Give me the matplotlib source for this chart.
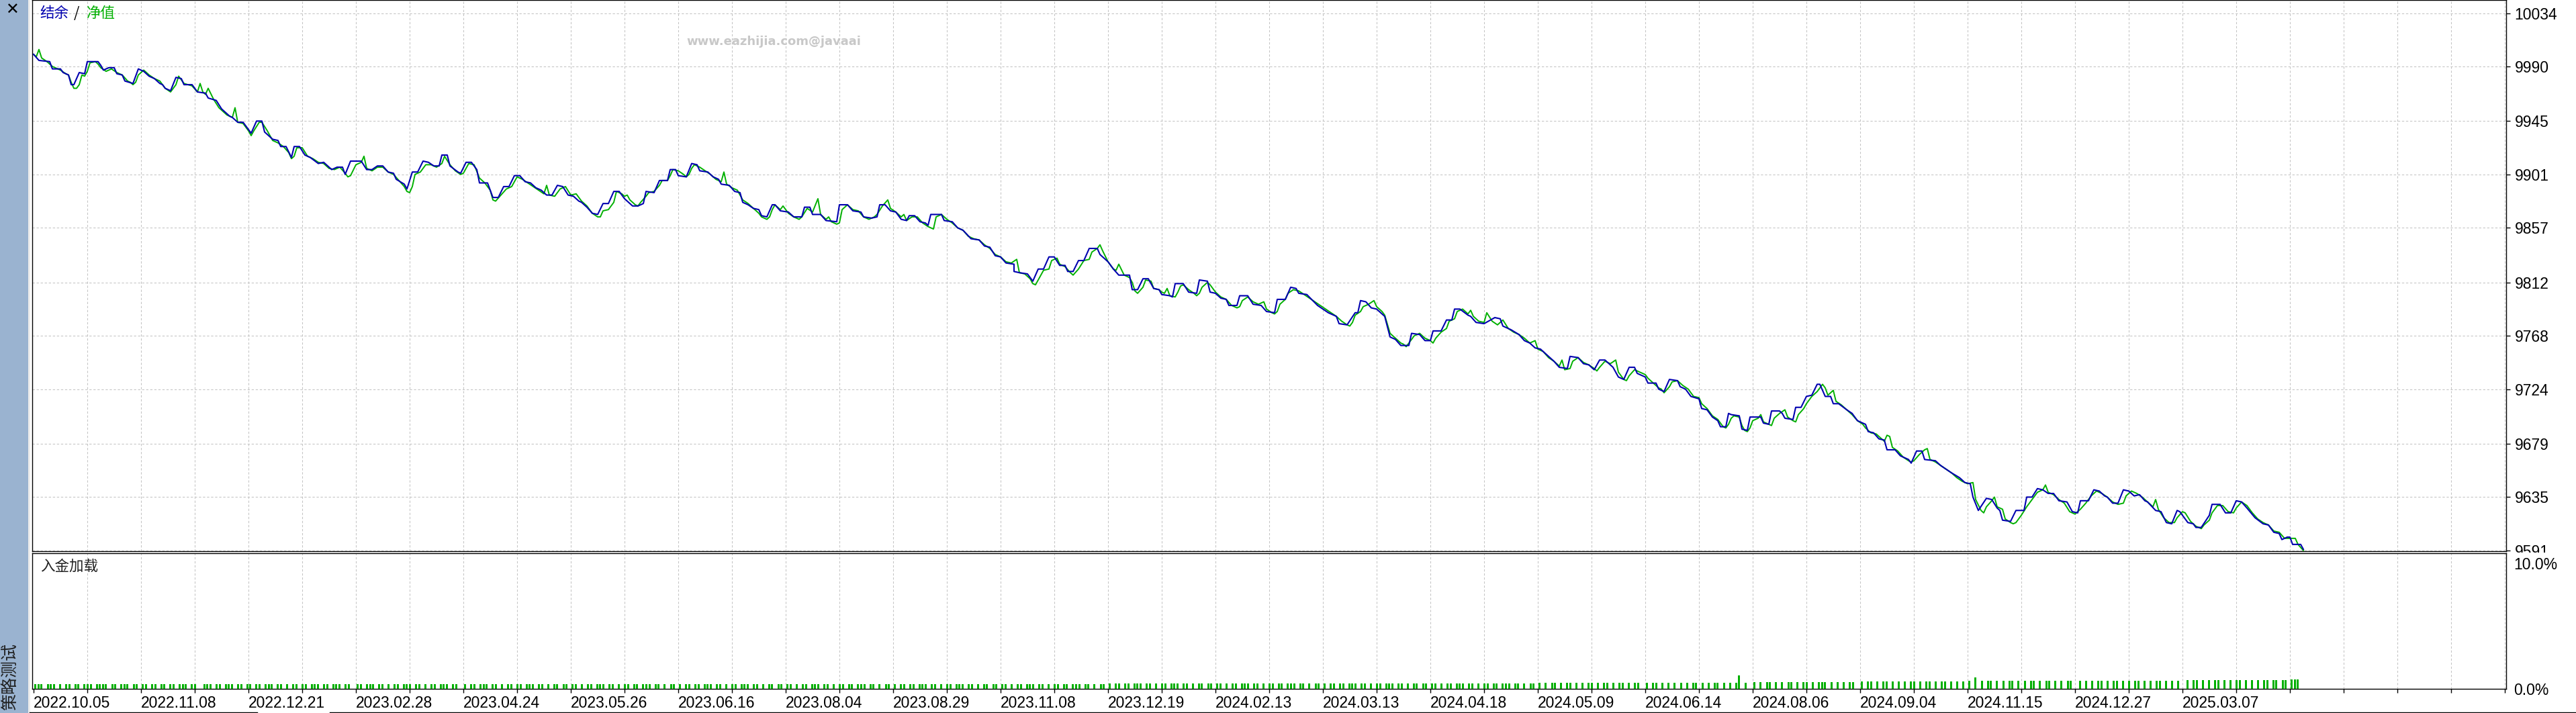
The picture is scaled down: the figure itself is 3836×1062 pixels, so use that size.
import matplotlib
matplotlib.use("Agg")
import matplotlib.pyplot as plt
from matplotlib.patches import Rectangle
from matplotlib.lines import Line2D

plt.rcParams['font.family'] = ['Liberation Sans', 'DejaVu Sans']

W, H = 3836, 1062

# 结余 (balance): (deal number, value)
balance = [
    (0, 10000), (2, 9995), (6, 9994), (7, 9988), (10, 9988), (11, 9985), (13, 9983), (14, 9975),
    (15, 9975), (17, 9985), (19, 9984), (20, 9994), (24, 9994), (25, 9991), (26, 9987), (28, 9989),
    (30, 9989), (31, 9984), (33, 9983), (34, 9978), (37, 9976), (39, 9988), (41, 9986), (43, 9982),
    (45, 9980), (47, 9976), (48, 9975), (49, 9972), (51, 9970), (53, 9981), (55, 9980), (56, 9975),
    (59, 9975), (61, 9969), (64, 9968), (65, 9964), (68, 9962), (70, 9955), (73, 9949), (74, 9948),
    (76, 9944), (78, 9944), (81, 9935), (83, 9945), (85, 9945), (86, 9936), (89, 9930), (91, 9929),
    (92, 9924), (94, 9924), (96, 9915), (97, 9924), (99, 9924), (101, 9917), (103, 9915), (106, 9910),
    (108, 9911), (111, 9905), (113, 9907), (115, 9907), (116, 9901), (118, 9912), (122, 9912),
    (124, 9905), (126, 9905), (128, 9908), (130, 9908), (132, 9903), (134, 9902), (135, 9897),
    (138, 9893), (139, 9889), (141, 9903), (143, 9903), (145, 9912), (147, 9911), (149, 9908),
    (151, 9908), (152, 9917), (154, 9917), (155, 9908), (158, 9903), (159, 9902), (161, 9911),
    (163, 9911), (165, 9905), (166, 9894), (169, 9894), (171, 9882), (173, 9882), (175, 9891),
    (177, 9891), (179, 9900), (181, 9900), (183, 9895), (185, 9894), (187, 9890), (189, 9888),
    (191, 9884), (193, 9884), (195, 9892), (197, 9891), (199, 9884), (201, 9883), (203, 9879),
    (204, 9878), (206, 9874), (208, 9869), (210, 9868), (212, 9877), (214, 9877), (216, 9887),
    (218, 9887), (220, 9881), (223, 9875), (225, 9875), (227, 9877), (228, 9887), (231, 9886),
    (233, 9896), (236, 9896), (237, 9905), (239, 9905), (240, 9900), (243, 9899), (245, 9910),
    (247, 9909), (248, 9904), (251, 9903), (253, 9899), (255, 9897), (256, 9893), (259, 9892),
    (261, 9887), (263, 9886), (264, 9878), (266, 9876), (268, 9873), (270, 9872), (271, 9867),
    (273, 9866), (275, 9876), (276, 9876), (278, 9871), (281, 9870), (283, 9866), (286, 9866),
    (287, 9874), (289, 9874), (290, 9868), (293, 9868), (295, 9863), (299, 9862), (300, 9876),
    (303, 9876), (305, 9871), (308, 9870), (309, 9866), (312, 9865), (314, 9866), (315, 9876),
    (317, 9876), (319, 9871), (321, 9870), (323, 9864), (325, 9863), (326, 9867), (328, 9867),
    (330, 9862), (332, 9861), (333, 9859), (334, 9868), (338, 9868), (339, 9863), (342, 9862),
    (344, 9857), (346, 9855), (349, 9848), (352, 9847), (354, 9842), (356, 9841), (358, 9834),
    (360, 9833), (362, 9828), (365, 9827), (365, 9821), (367, 9820), (370, 9819), (372, 9813),
    (374, 9823), (376, 9823), (378, 9833), (380, 9833), (382, 9826), (384, 9826), (385, 9821),
    (387, 9821), (389, 9830), (391, 9830), (393, 9840), (396, 9840), (397, 9835), (400, 9829),
    (402, 9823), (404, 9818), (406, 9818), (408, 9818), (409, 9806), (411, 9806), (413, 9815),
    (415, 9815), (417, 9807), (419, 9806), (420, 9802), (423, 9801), (424, 9800), (425, 9811),
    (428, 9811), (430, 9804), (433, 9803), (434, 9814), (437, 9813), (438, 9804), (440, 9803),
    (442, 9799), (444, 9798), (445, 9793), (448, 9793), (449, 9801), (452, 9801), (454, 9794),
    (457, 9793), (459, 9788), (462, 9787), (463, 9798), (466, 9798), (468, 9808), (470, 9807),
    (471, 9803), (474, 9802), (478, 9793), (482, 9787), (485, 9784), (486, 9778), (489, 9777),
    (492, 9787), (493, 9787), (494, 9797), (496, 9796), (498, 9791), (500, 9790), (503, 9784),
    (505, 9767), (507, 9765), (509, 9760), (512, 9760), (513, 9770), (516, 9769), (518, 9764),
    (520, 9764), (521, 9772), (524, 9772), (526, 9781), (528, 9781), (529, 9790), (531, 9790),
    (534, 9785), (535, 9784), (537, 9779), (540, 9778), (544, 9783), (546, 9782), (547, 9776),
    (550, 9773), (553, 9769), (555, 9764), (557, 9762), (559, 9758), (561, 9757), (563, 9753),
    (566, 9747), (568, 9742), (571, 9741), (572, 9751), (575, 9750), (577, 9745), (579, 9744),
    (581, 9740), (583, 9748), (585, 9748), (588, 9742), (590, 9734), (592, 9732), (594, 9742),
    (596, 9742), (597, 9737), (600, 9734), (601, 9729), (604, 9729), (605, 9724), (607, 9722),
    (609, 9732), (612, 9731), (613, 9726), (615, 9724), (617, 9718), (620, 9716), (621, 9708),
    (623, 9707), (625, 9701), (627, 9698), (628, 9693), (630, 9693), (631, 9704), (632, 9703),
    (635, 9702), (636, 9691), (638, 9690), (639, 9701), (642, 9701), (643, 9701), (644, 9696),
    (646, 9695), (647, 9706), (650, 9706), (651, 9704), (652, 9700), (655, 9699), (656, 9709),
    (658, 9709), (660, 9718), (662, 9719), (664, 9728), (665, 9728), (667, 9718), (669, 9718),
    (670, 9712), (672, 9712), (675, 9707), (677, 9704), (679, 9698), (682, 9695), (683, 9689),
    (685, 9688), (687, 9683), (689, 9682), (690, 9674), (693, 9674), (695, 9669), (698, 9666),
    (699, 9663), (701, 9673), (703, 9673), (704, 9666), (708, 9665), (710, 9661), (712, 9658),
    (714, 9655), (717, 9651), (719, 9647), (721, 9646), (722, 9635), (724, 9624), (727, 9634),
    (729, 9633), (731, 9626), (732, 9624), (733, 9616), (736, 9615), (738, 9624), (741, 9624),
    (742, 9635), (744, 9635), (746, 9642), (748, 9641), (750, 9638), (752, 9638), (754, 9632),
    (757, 9631), (759, 9623), (761, 9622), (762, 9632), (765, 9632), (767, 9641), (769, 9640),
    (771, 9636), (772, 9635), (774, 9630), (776, 9630), (778, 9641), (780, 9640), (782, 9636),
    (784, 9637), (786, 9632), (787, 9631), (790, 9624), (792, 9623), (794, 9614), (796, 9613),
    (798, 9624), (799, 9623), (802, 9614), (804, 9613), (805, 9610), (807, 9610), (810, 9620),
    (811, 9629), (814, 9629), (816, 9622), (818, 9622), (820, 9632), (822, 9631), (824, 9626),
    (827, 9618), (830, 9613), (832, 9612), (834, 9606), (836, 9605), (837, 9600), (839, 9602),
    (840, 9602), (841, 9596), (844, 9596), (845, 9592),
]

# 净值 (equity): (deal number, value)
equity = [
    (0, 10000), (1, 9998), (2, 10004), (3, 9997), (5, 9994), (7, 9990), (10, 9987), (12, 9984),
    (13, 9983), (14, 9977), (15, 9972), (16, 9972), (17, 9975), (18, 9983), (19, 9982), (20, 9986),
    (21, 9993), (23, 9994), (24, 9992), (25, 9989), (27, 9986), (29, 9988), (31, 9985), (33, 9983),
    (35, 9978), (36, 9977), (37, 9975), (38, 9977), (39, 9983), (41, 9987), (43, 9983), (45, 9980),
    (47, 9978), (49, 9972), (51, 9969), (53, 9975), (54, 9982), (56, 9976), (59, 9974), (61, 9969),
    (62, 9976), (63, 9969), (64, 9967), (65, 9972), (67, 9963), (69, 9956), (72, 9950), (74, 9948),
    (75, 9956), (76, 9944), (78, 9943), (80, 9937), (81, 9933), (82, 9937), (84, 9944), (85, 9944),
    (87, 9937), (89, 9929), (91, 9927), (93, 9924), (95, 9919), (96, 9914), (97, 9916), (98, 9923),
    (100, 9923), (102, 9916), (104, 9914), (106, 9911), (108, 9910), (110, 9906), (112, 9905),
    (114, 9907), (116, 9902), (117, 9899), (118, 9900), (120, 9909), (122, 9911), (123, 9916),
    (124, 9906), (126, 9904), (128, 9907), (130, 9907), (132, 9903), (134, 9901), (136, 9896),
    (138, 9891), (139, 9887), (140, 9886), (141, 9891), (142, 9901), (144, 9903), (146, 9909),
    (148, 9909), (150, 9907), (152, 9910), (153, 9916), (155, 9909), (157, 9904), (159, 9901),
    (160, 9902), (162, 9910), (164, 9909), (166, 9898), (168, 9894), (170, 9888), (171, 9880),
    (172, 9879), (174, 9884), (176, 9889), (178, 9891), (180, 9899), (182, 9897), (184, 9894),
    (186, 9891), (188, 9888), (190, 9885), (191, 9892), (192, 9884), (194, 9883), (196, 9889),
    (198, 9891), (200, 9884), (202, 9885), (204, 9879), (206, 9875), (208, 9869), (210, 9866),
    (211, 9866), (212, 9871), (214, 9872), (215, 9875), (216, 9878), (217, 9887), (219, 9885),
    (220, 9883), (221, 9884), (222, 9880), (224, 9876), (225, 9875), (226, 9878), (228, 9883),
    (229, 9886), (231, 9887), (233, 9892), (234, 9896), (236, 9896), (237, 9900), (238, 9905),
    (240, 9904), (242, 9901), (243, 9899), (244, 9901), (245, 9906), (246, 9909), (248, 9907),
    (250, 9904), (252, 9901), (254, 9897), (256, 9895), (257, 9903), (258, 9893), (260, 9890),
    (262, 9888), (264, 9880), (266, 9877), (268, 9873), (270, 9869), (271, 9866), (273, 9864),
    (274, 9866), (275, 9872), (276, 9876), (278, 9872), (279, 9875), (281, 9869), (283, 9866),
    (285, 9864), (286, 9866), (288, 9873), (290, 9870), (292, 9881), (293, 9868), (295, 9864),
    (296, 9866), (297, 9862), (298, 9861), (299, 9860), (300, 9861), (301, 9872), (303, 9876),
    (305, 9872), (307, 9871), (309, 9866), (311, 9864), (313, 9866), (314, 9868), (316, 9875),
    (318, 9880), (319, 9873), (321, 9870), (323, 9866), (324, 9868), (325, 9863), (327, 9866),
    (329, 9866), (331, 9861), (333, 9858), (335, 9856), (336, 9866), (338, 9868), (340, 9864),
    (342, 9861), (344, 9857), (346, 9855), (348, 9850), (350, 9848), (352, 9847), (354, 9843),
    (356, 9840), (358, 9835), (360, 9833), (362, 9829), (364, 9828), (366, 9831), (367, 9820),
    (369, 9819), (371, 9815), (372, 9811), (373, 9810), (375, 9818), (376, 9822), (378, 9823),
    (379, 9830), (381, 9832), (382, 9827), (384, 9825), (386, 9820), (387, 9818), (389, 9823),
    (391, 9830), (393, 9831), (394, 9837), (396, 9840), (397, 9843), (398, 9838), (400, 9829),
    (402, 9823), (403, 9822), (404, 9827), (406, 9818), (408, 9816), (409, 9812), (410, 9805),
    (411, 9803), (413, 9808), (414, 9814), (416, 9813), (417, 9807), (419, 9806), (420, 9804),
    (421, 9803), (422, 9807), (423, 9801), (425, 9800), (426, 9804), (427, 9809), (428, 9810),
    (430, 9806), (432, 9803), (433, 9801), (434, 9803), (435, 9808), (437, 9812), (438, 9810),
    (440, 9804), (442, 9800), (444, 9798), (446, 9793), (448, 9791), (449, 9792), (450, 9797),
    (452, 9800), (454, 9796), (456, 9794), (458, 9796), (459, 9790), (461, 9787), (462, 9786),
    (463, 9788), (464, 9794), (466, 9798), (467, 9803), (469, 9806), (471, 9805), (473, 9802),
    (475, 9799), (477, 9796), (479, 9793), (481, 9790), (483, 9787), (485, 9784), (487, 9780),
    (489, 9777), (490, 9776), (491, 9779), (492, 9785), (494, 9788), (495, 9792), (497, 9794),
    (499, 9797), (500, 9792), (502, 9788), (503, 9785), (505, 9770), (507, 9766), (509, 9762),
    (510, 9761), (511, 9759), (512, 9762), (514, 9768), (516, 9770), (518, 9766), (520, 9764),
    (521, 9762), (522, 9766), (524, 9771), (526, 9774), (527, 9780), (529, 9782), (530, 9788),
    (532, 9790), (534, 9786), (535, 9789), (536, 9784), (538, 9780), (540, 9779), (541, 9787),
    (543, 9780), (545, 9777), (547, 9781), (549, 9774), (551, 9771), (553, 9769), (555, 9766),
    (557, 9762), (559, 9764), (560, 9757), (562, 9755), (564, 9750), (566, 9747), (568, 9743),
    (569, 9748), (570, 9740), (572, 9741), (573, 9747), (575, 9750), (577, 9746), (579, 9744),
    (581, 9741), (582, 9739), (583, 9742), (585, 9747), (587, 9745), (589, 9748), (590, 9738),
    (592, 9732), (593, 9731), (594, 9735), (596, 9740), (598, 9738), (600, 9736), (601, 9733),
    (603, 9729), (605, 9725), (606, 9724), (607, 9721), (609, 9726), (610, 9730), (612, 9731),
    (614, 9727), (616, 9724), (618, 9718), (620, 9717), (621, 9712), (623, 9708), (625, 9702),
    (627, 9699), (629, 9693), (630, 9692), (631, 9695), (632, 9700), (633, 9702), (635, 9701),
    (636, 9694), (637, 9690), (638, 9689), (639, 9692), (640, 9698), (642, 9700), (643, 9703),
    (644, 9697), (646, 9695), (647, 9694), (648, 9700), (650, 9704), (652, 9707), (653, 9701),
    (655, 9698), (656, 9697), (657, 9703), (659, 9708), (660, 9712), (662, 9718), (664, 9722),
    (666, 9728), (667, 9725), (668, 9719), (670, 9723), (671, 9714), (673, 9711), (675, 9707),
    (677, 9703), (679, 9698), (681, 9695), (682, 9692), (684, 9688), (686, 9687), (688, 9683),
    (689, 9681), (690, 9686), (691, 9685), (692, 9676), (694, 9673), (696, 9668), (698, 9665),
    (699, 9664), (700, 9665), (702, 9670), (704, 9674), (705, 9675), (706, 9666), (708, 9664),
    (710, 9661), (712, 9658), (714, 9655), (716, 9651), (718, 9648), (720, 9646), (722, 9647),
    (723, 9633), (725, 9624), (726, 9622), (727, 9627), (729, 9632), (730, 9635), (731, 9627),
    (733, 9625), (734, 9617), (736, 9614), (737, 9613), (738, 9614), (740, 9620), (742, 9627),
    (744, 9633), (746, 9639), (748, 9641), (749, 9645), (750, 9639), (752, 9637), (754, 9633),
    (756, 9630), (758, 9623), (760, 9621), (762, 9625), (764, 9630), (766, 9636), (768, 9640),
    (770, 9638), (772, 9635), (774, 9631), (776, 9629), (778, 9630), (779, 9636), (781, 9640),
    (783, 9638), (785, 9635), (787, 9631), (789, 9627), (790, 9633), (791, 9625), (793, 9618),
    (795, 9614), (797, 9614), (798, 9618), (800, 9623), (801, 9622), (803, 9615), (805, 9611),
    (807, 9609), (808, 9612), (810, 9616), (811, 9622), (813, 9628), (815, 9628), (817, 9623),
    (819, 9622), (820, 9626), (822, 9631), (824, 9628), (826, 9622), (828, 9617), (830, 9614),
    (832, 9612), (834, 9607), (836, 9606), (838, 9601), (840, 9601), (842, 9601), (843, 9596),
    (845, 9591),
]

date_labels = ['2022.10.05', '2022.11.08', '2022.12.21', '2023.02.28', '2023.04.24',
               '2023.05.26', '2023.06.16', '2023.08.04', '2023.08.29', '2023.11.08',
               '2023.12.19', '2024.02.13', '2024.03.13', '2024.04.18', '2024.05.09',
               '2024.06.14', '2024.08.06', '2024.09.04', '2024.11.15', '2024.12.27',
               '2025.03.07']
value_ticks = [9591, 9635, 9679, 9724, 9768, 9812, 9857, 9901, 9945, 9990, 10034]
load_ticks = [0.0, 10.0]
load_tick_labels = ['0.0%', '10.0%']

# 入金加载 bars: one char per slot ('|' = bar), one string per date interval
load_masks = [
    '|||.|||.|.||.||.|||.||||.||.|||.||.',
    '||.||.||.||.|||.||..|||.||.|||.||.|',
    '|.||.|||.||.|.||.||.|||.||.|||.||.',
    '||.|||.||.|.||.|||.||.|.||.|||.||.',
    '|.||.|||.||.|.||.||.|||.||.|.||.||.',
    '||.|.||.|||.||.|.||.||.|||.||.|.||.',
    '|.||.||.|||.||.|.||.|||.||.|.||.||.',
    '||.|.||.|||.||.|.||.||.|||.||.|.||.',
    '|.||.||.|||.||.|.||.|||.||.|.||.||.',
    '||.|.||.|||.||.|.||.||.|||.||.|.||.',
    '|.||.||.|||.||.|.||.|||.||.|.||.||.',
    '||.|.||.|||.||.|.||.||.|||.||.|.||.',
    '|.||.||.|||.||.|.||.|||.||.|.||.||.',
    '||.|.||.|||.||.|.||.||.|||.||.|.||.',
    '|.|.||.|.||.|.|.||.|.||.|.||.|.||.',
    '|.||.|.|.|.|.|.||.|.|.||.|.|.||.|.',
    '|.|.||.|.|.||.|.||.|.|||.|.|.|.||.',
    '|.||.|.||.|.|.|.||.|.||.|.||.|.|.|',
    '|.|.|.||.|.|.||.|.|.||.|.||.|.|.||',
    '.|.|.|.||.|.||.|.|.||.|.|.||.|.|.|',
    '.|.||.|.|.||.|.|.||.|.|.|.||.||.||',
    '|||.',
]
load_levels = [0.35, 0.35, 0.35, 0.35, 0.35, 0.4, 0.4, 0.4, 0.4, 0.4, 0.45,
               0.45, 0.45, 0.45, 0.5, 0.5, 0.55, 0.58, 0.62, 0.66, 0.72, 0.75]
load_peaks = {555: 1.07, 632: 0.9}

BLUE = '#0000B0'
GREEN = '#00B000'
GRID = '#C4C4C4'
GRID_LS = (0, (3.2, 2.6))


def fx(px):
    return px / W


def fy(py):
    return 1 - py / H


fig = plt.figure(figsize=(W / 100, H / 100), dpi=100)
fig.patch.set_facecolor('white')

# left tool strip
fig.add_artist(Rectangle((0, 0), fx(42), 1, transform=fig.transFigure,
                         facecolor='#9AB3D0', edgecolor='none'))
fig.add_artist(Rectangle((fx(42), 0), fx(3), 1, transform=fig.transFigure,
                         facecolor='#ECECEC', edgecolor='none'))
fig.text(fx(18), fy(15), '✕', ha='center', va='center', fontsize=17,
         fontweight='bold', family='DejaVu Sans', color='black')
fig.text(fx(15), fy(1058), '策略测试', rotation=90, ha='center', va='bottom',
         fontsize=18, family=['Noto Sans CJK SC', 'DejaVu Sans'], color='#202020')

# ---- balance / equity panel ----
ax = fig.add_axes([fx(48), fy(821), fx(3732 - 48), 821 / H], zorder=0)
ax.plot([d for d, v in equity], [v for d, v in equity], color=GREEN, lw=1.4, zorder=3)
ax.plot([d for d, v in balance], [v for d, v in balance], color=BLUE, lw=1.5, zorder=4)
ax.set_xlim(-0.5, 920.5)
ax.set_ylim(9590.4, 10044.8)
for d in range(20, 921, 20):
    ax.axvline(d, color=GRID, lw=0.75, ls=GRID_LS, zorder=1)
for v in value_ticks:
    ax.axhline(v, color=GRID, lw=0.75, ls=GRID_LS, zorder=1)
ax.set_xticks([])
ax.yaxis.tick_right()
ax.set_yticks(value_ticks)
ax.set_yticklabels([str(v) for v in value_ticks])
ax.tick_params(axis='y', direction='out', length=4, width=1, pad=5, labelsize=16.5)

# ---- deposit load panel ----
ax2 = fig.add_axes([fx(48), fy(1026), fx(3732 - 48), (1026 - 823.5) / H], zorder=2)
bar_x, bar_h = [], []
for k, (mask, level) in enumerate(zip(load_masks, load_levels)):
    for j, ch in enumerate(mask):
        if ch == '|':
            s = 35 * k + j
            bar_x.append(0.7 + s * 8 / 7)
            bar_h.append(load_peaks.get(s, level))
ax2.bar(bar_x, bar_h, width=0.75, color=GREEN, linewidth=0, zorder=3)
ax2.set_xlim(-0.5, 920.5)
ax2.set_ylim(0, 10.83)
for d in range(20, 921, 20):
    ax2.axvline(d, color=GRID, lw=0.75, ls=GRID_LS, zorder=1)
major = list(range(0, 801, 40))
minor = [d for d in range(20, 921, 20) if d not in major]
ax2.set_xticks(major)
ax2.set_xticklabels(date_labels, ha='left')
ax2.set_xticks(minor, minor=True)
ax2.tick_params(axis='x', which='both', direction='out', length=4, width=1, pad=3,
                labelsize=16.5)
ax2.yaxis.tick_right()
ax2.set_yticks(load_ticks)
ax2.set_yticklabels(load_tick_labels)
ax2.tick_params(axis='y', length=0, pad=8, labelsize=16.5)

for a in (ax, ax2):
    for s in a.spines.values():
        s.set_linewidth(1.0)
        s.set_color('black')

# hides the lower half of the last value label, as the lower panel does
fig.add_artist(Rectangle((fx(3733), fy(1031)), 1 - fx(3733), (1031 - 822.5) / H,
                         transform=fig.transFigure, facecolor='white',
                         edgecolor='none', zorder=1))

# captions
cjk = ['Noto Sans CJK SC', 'DejaVu Sans']
fig.text(fx(59), fy(20), '结余', ha='left', va='center', fontsize=15.5, family=cjk, color=BLUE)
fig.text(fx(110), fy(20), '/', ha='left', va='center', fontsize=15.5, family=cjk, color='black')
fig.text(fx(129), fy(20), '净值', ha='left', va='center', fontsize=15.5, family=cjk, color=GREEN)
fig.text(fx(60), fy(844), '入金加载', ha='left', va='center', fontsize=15.5, family=cjk,
         color='#202020')
fig.text(fx(1022), fy(62), 'www.eazhijia.com@javaai', ha='left', va='center', fontsize=13,
         fontweight='bold', family='DejaVu Sans', color='#C8C8C8')

# bottom tab border
fig.add_artist(Line2D([fx(44), fx(383)], [fy(1060.5)] * 2, transform=fig.transFigure,
                      color='black', lw=1))
fig.add_artist(Line2D([fx(491), 1], [fy(1060.5)] * 2, transform=fig.transFigure,
                      color='black', lw=1))

fig.savefig('out.png', dpi=100, facecolor='white')
